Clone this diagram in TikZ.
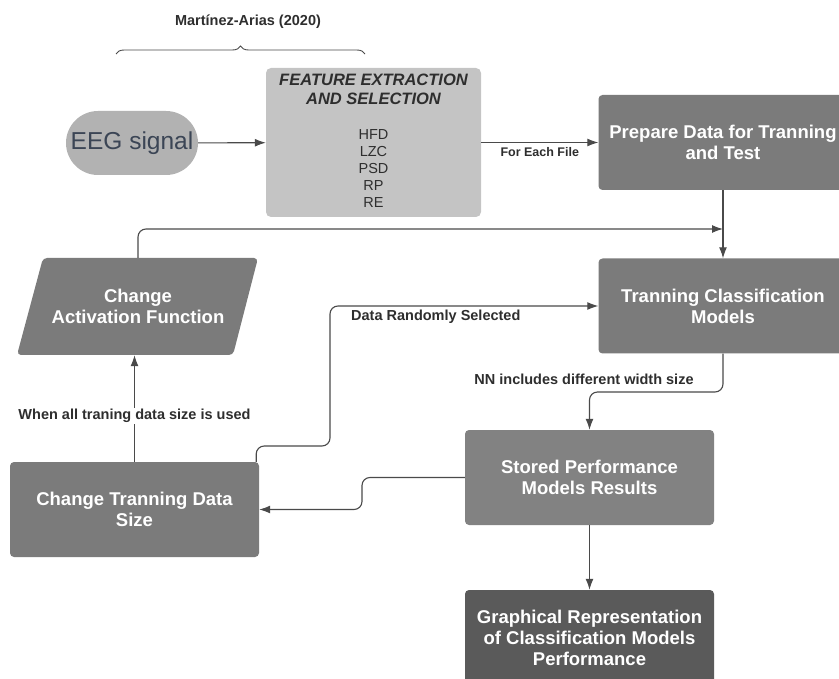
\documentclass[tikz,border=0pt]{standalone}
\usepackage{fontspec}
\setmainfont{Liberation Sans}
\usepackage{tikz}
\usetikzlibrary{arrows.meta, positioning, calc, decorations.pathreplacing}

\definecolor{boxgray}{HTML}{7B7B7B}
\definecolor{storegray}{HTML}{828282}
\definecolor{darkbox}{HTML}{5A5A5A}
\definecolor{featgray}{HTML}{C4C4C4}
\definecolor{pillgray}{HTML}{B2B2B2}
\definecolor{slate}{HTML}{3B4555}
\definecolor{linegray}{HTML}{4A4A4A}
\definecolor{labelgray}{HTML}{2E2E2E}

\begin{document}
\begin{tikzpicture}[x=1pt, y=-1pt,
  box/.style={rectangle, rounded corners=4pt, fill=boxgray, text=white,
    font=\fontsize{18.5}{21}\selectfont\bfseries, align=center,
    minimum width=249pt, minimum height=95pt, inner sep=0pt},
  flow/.style={-{Latex[length=11pt,width=8pt]}, draw=linegray, line width=1.1pt},
  lbl/.style={font=\fontsize{14.5}{17}\selectfont\bfseries, text=labelgray, inner sep=1pt}]
  \useasboundingbox (0,0) rectangle (839,679);

  % Input and feature block
  \node[rectangle, rounded corners=32pt, fill=pillgray, text=slate,
        minimum width=132pt, minimum height=64pt, inner sep=0pt,
        font=\fontsize{24.5}{28}\selectfont] (eeg) at (132,143) {EEG signal};
  \node[rectangle, rounded corners=5pt, fill=featgray,
        minimum width=215pt, minimum height=149pt, inner sep=0pt] (feat) at (373.5,142.5) {};
  \node[font=\fontsize{16.5}{19.5}\selectfont\bfseries\itshape, text=labelgray,
        align=center, inner sep=0pt] (feattitle) at (373.5,89.5)
        {FEATURE EXTRACTION\\AND SELECTION};
  \node[font=\fontsize{14.5}{17}\selectfont, text=labelgray, align=center,
        inner sep=0pt] (featlist) at (373.5,169) {HFD\\LZC\\PSD\\RP\\RE};

  % Reference brace over the first two blocks
  \draw[decorate, decoration={brace, amplitude=8pt}, draw=linegray, line width=0.9pt]
    (116,54) -- (365,54);
  \node[lbl] (cite) at (248,22) {Martínez-Arias (2020)};

  % Main process boxes
  \node[box] (prep) at (723,142.5) {Prepare Data for Tranning\\and Test};
  \node[box] (train) at (723,306) {Tranning Classification\\Models};
  \node[box, fill=storegray] (store) at (589.5,477.5) {Stored Performance\\Models Results};
  \node[box, fill=darkbox] (graph) at (589.5,637.5)
    {Graphical Representation\\of Classification Models\\Performance};
  \node[box] (size) at (134.5,509.5) {Change Tranning Data\\Size};

  % Activation function as a parallelogram
  \fill[boxgray, rounded corners=4pt] (43,258) -- (258,258) -- (233,355) -- (17,355) -- cycle;
  \node[text=white, font=\fontsize{18.5}{21}\selectfont\bfseries, align=center,
        minimum height=97pt, inner sep=0pt] (act) at (138,306.5)
        {Change\\Activation Function};

  % Bend points of the loops
  \coordinate (merge) at (723,229);
  \coordinate (rbend) at (330,446);
  \coordinate (nnbend) at (589.5,392);
  \coordinate (sbend) at (362,477.5);

  % Connectors
  \draw[flow] (eeg) -- (feat);
  \draw[flow] (feat) -- (prep) node[midway, below=3pt, lbl,
    font=\fontsize{12.5}{15}\selectfont\bfseries] (eachfile) {For Each File};
  \draw[flow] (prep) -- (train);
  \draw[flow, rounded corners=8pt] (act.north) |- (merge);
  \draw[flow, rounded corners=8pt] ([xshift=-3pt]size.north east) |- (rbend) |- (train.west);
  \node[lbl, anchor=north west] (random) at (350,309) {Data Randomly Selected};
  \draw[flow, rounded corners=8pt] (train.south) |- (nnbend) -- (store.north);
  \node[lbl] (nnwidth) at (584,379) {NN includes different width size};
  \draw[flow, rounded corners=8pt] (store.west) -- (sbend) |- (size.east);
  \draw[flow] (store) -- (graph);
  \draw[flow] (size.north) -- (size.north |- act.south)
    node[pos=0.43, lbl, fill=white] (allused) {When all traning data size is used};
\end{tikzpicture}
\end{document}
